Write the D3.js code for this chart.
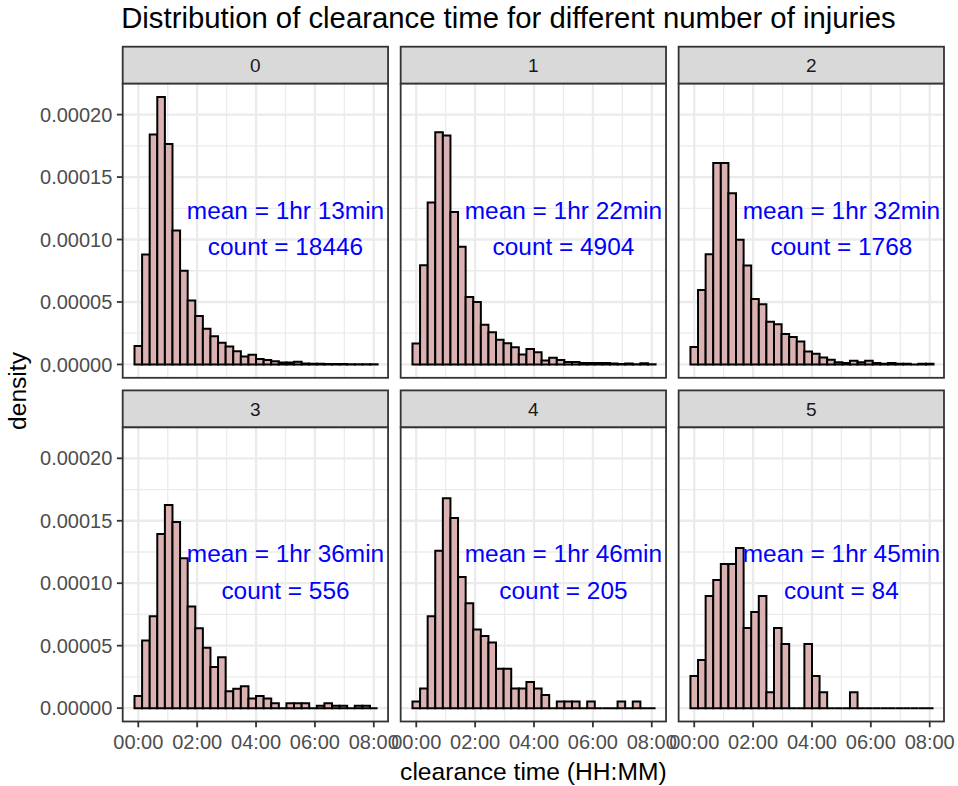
<!DOCTYPE html>
<html>
<head>
<meta charset="utf-8">
<script src="https://cdn.jsdelivr.net/npm/d3@7"></script>
<style>
  html, body { margin: 0; padding: 0; background: #ffffff; }
  svg { display: block; font-family: "Liberation Sans", Arial, sans-serif; }
</style>
</head>
<body>
<svg id="chart" width="958" height="786"></svg>
<script>
// Facet levels: number of injuries per incident
const injuryLevels = ["0", "1", "2", "3", "4", "5"];
// Incidents per facet
const totalCounts = [18446, 4904, 1768, 556, 205, 84];
// Mean clearance time per facet
const meanLabels = ["1hr 13min", "1hr 22min", "1hr 32min", "1hr 36min", "1hr 46min", "1hr 45min"];

// Incidents per histogram bin (32 bins from 00:00 to 08:00)
const binCounts0 = [252, 1508, 3154, 3668, 3025, 1838, 1284, 877, 666, 489, 385, 299, 247, 181, 110, 134,
                    75, 62, 43, 26, 26, 38, 14, 10, 9, 5, 7, 5, 3, 2, 2, 2];
const binCounts1 = [76, 362, 591, 847, 835, 556, 429, 246, 228, 145, 117, 90, 77, 63, 36, 56,
                    44, 14, 24, 16, 9, 9, 5, 5, 5, 5, 3, 2, 3, 1, 4, 1];
const binCounts2 = [23, 98, 145, 265, 265, 225, 164, 130, 86, 79, 56, 53, 40, 36, 30, 17,
                    14, 9, 6, 3, 2, 5, 3, 5, 2, 1, 2, 1, 1, 0, 1, 1];
const binCounts3 = [5, 28, 38, 72, 84, 77, 62, 42, 33, 25, 17, 21, 7, 8, 9, 4,
                    5, 4, 2, 0, 2, 2, 2, 0, 1, 2, 1, 1, 0, 1, 1, 0];
const binCounts4 = [1, 3, 14, 24, 32, 29, 20, 16, 12, 11, 10, 6, 6, 3, 3, 4,
                    3, 2, 0, 1, 1, 1, 0, 1, 0, 0, 0, 1, 0, 1, 0, 0];
const binCounts5 = [2, 3, 7, 8, 9, 9, 10, 5, 6, 7, 1, 5, 4, 0, 0, 4,
                    2, 1, 0, 0, 0, 1, 0, 0, 0, 0, 0, 0, 0, 0, 0, 0];

// Axis ticks
const xTickHours = [0, 2, 4, 6, 8];
const xTickLabels = ["00:00", "02:00", "04:00", "06:00", "08:00"];
const xMinorHours = [1, 3, 5, 7];
const yTickValues = [0, 0.00005, 0.0001, 0.00015, 0.0002];
const yTickLabels = ["0.00000", "0.00005", "0.00010", "0.00015", "0.00020"];
const yMinorValues = [0.000025, 0.000075, 0.000125, 0.000175];

// Text
const titleText = "Distribution of clearance time for different number of injuries";
const xTitle = "clearance time (HH:MM)";
const yTitle = "density";

const allBinCounts = [binCounts0, binCounts1, binCounts2, binCounts3, binCounts4, binCounts5];
const nBins = binCounts0.length;
const binHours = 8 / (nBins - 1);
const binSeconds = binHours * 3600;
const annotationHour = 5;
const annotationDensity = 0.00011;

// Histogram density (per second) for each facet
const panels = injuryLevels.map((lvl, i) => {
  const n = totalCounts[i];
  const bins = allBinCounts[i].map((c, k) => ({
    x0: k * binHours - binHours / 2,
    x1: k * binHours + binHours / 2,
    density: c / (n * binSeconds)
  }));
  return { level: lvl, n, mean: meanLabels[i], bins };
});

// Layout
const area = { left: 122.7, right: 944, top: 46.7, bottom: 721.5 };
const gap = 12.6, stripH = 37, nCol = 3, nRow = 2;
const panelW = (area.right - area.left - gap * (nCol - 1)) / nCol;
const panelH = (area.bottom - area.top - gap * (nRow - 1)) / nRow - stripH;
const tickLen = 5.8;
const tickFont = 20;

const yMax = d3.max(panels, p => d3.max(p.bins, b => b.density));
const x = d3.scaleLinear().domain([-0.53, 8.485]).range([0, panelW]);
const y = d3.scaleLinear().domain([-0.05 * yMax, 1.05 * yMax]).range([panelH, 0]);

const svg = d3.select("#chart");
svg.append("rect").attr("width", 958).attr("height", 786).attr("fill", "#ffffff");

// Title
svg.append("text")
  .attr("x", area.left - 1.5).attr("y", 28)
  .attr("font-size", 29.3).attr("fill", "#000")
  .text(titleText);

const defs = svg.append("defs");
defs.append("clipPath").attr("id", "panel-clip")
  .append("rect").attr("width", panelW).attr("height", panelH);

panels.forEach((p, i) => {
  const col = i % nCol, row = Math.floor(i / nCol);
  const px = area.left + col * (panelW + gap);
  const py = area.top + row * (panelH + stripH + gap);

  // Strip
  const strip = svg.append("g").attr("transform", `translate(${px},${py})`);
  strip.append("rect")
    .attr("width", panelW).attr("height", stripH)
    .attr("fill", "#D9D9D9").attr("stroke", "#333333").attr("stroke-width", 1.8);
  strip.append("text")
    .attr("x", panelW / 2).attr("y", stripH / 2).attr("dy", "0.36em")
    .attr("text-anchor", "middle").attr("font-size", 19).attr("fill", "#1A1A1A")
    .text(p.level);

  const g = svg.append("g").attr("transform", `translate(${px},${py + stripH})`);
  const inner = g.append("g").attr("clip-path", "url(#panel-clip)");
  inner.append("rect").attr("width", panelW).attr("height", panelH).attr("fill", "#ffffff");

  // Grid
  inner.selectAll(".gx-minor").data(xMinorHours).join("line")
    .attr("x1", d => x(d)).attr("x2", d => x(d)).attr("y1", 0).attr("y2", panelH)
    .attr("stroke", "#EBEBEB").attr("stroke-width", 1.3);
  inner.selectAll(".gy-minor").data(yMinorValues).join("line")
    .attr("x1", 0).attr("x2", panelW).attr("y1", d => y(d)).attr("y2", d => y(d))
    .attr("stroke", "#EBEBEB").attr("stroke-width", 1.3);
  inner.selectAll(".gx-major").data(xTickHours).join("line")
    .attr("x1", d => x(d)).attr("x2", d => x(d)).attr("y1", 0).attr("y2", panelH)
    .attr("stroke", "#EBEBEB").attr("stroke-width", 2.3);
  inner.selectAll(".gy-major").data(yTickValues).join("line")
    .attr("x1", 0).attr("x2", panelW).attr("y1", d => y(d)).attr("y2", d => y(d))
    .attr("stroke", "#EBEBEB").attr("stroke-width", 2.3);

  // Histogram bars (zero-height bins still draw their outline)
  inner.selectAll(".bar").data(p.bins).join("path")
    .attr("d", b => {
      const x0 = x(b.x0), x1 = x(b.x1), y0 = y(0), y1 = y(b.density);
      return `M${x0},${y0}V${y1}H${x1}V${y0}Z`;
    })
    .attr("fill", "#DBB2B2").attr("stroke", "#000000").attr("stroke-width", 2)
    .attr("stroke-linejoin", "miter");

  // Annotation
  const ax = x(annotationHour), ay = y(annotationDensity);
  g.append("text")
    .attr("x", ax).attr("y", ay - 8.5)
    .attr("text-anchor", "middle").attr("font-size", 24.4).attr("fill", "#0000FF")
    .text(`mean = ${p.mean}`);
  g.append("text")
    .attr("x", ax).attr("y", ay + 28)
    .attr("text-anchor", "middle").attr("font-size", 24.4).attr("fill", "#0000FF")
    .text(`count = ${p.n}`);

  // Panel border
  g.append("rect").attr("width", panelW).attr("height", panelH)
    .attr("fill", "none").attr("stroke", "#333333").attr("stroke-width", 1.8);

  // Y axis on the left column
  if (col === 0) {
    g.selectAll(".ytick").data(yTickValues).join("line")
      .attr("x1", -tickLen).attr("x2", 0).attr("y1", d => y(d)).attr("y2", d => y(d))
      .attr("stroke", "#333333").attr("stroke-width", 1.8);
    g.selectAll(".ylab").data(yTickValues).join("text")
      .attr("x", -tickLen - 4.6).attr("y", d => y(d)).attr("dy", "0.36em")
      .attr("text-anchor", "end").attr("font-size", tickFont).attr("fill", "#4D4D4D")
      .text((d, j) => yTickLabels[j]);
  }
  // X axis on the bottom row
  if (row === nRow - 1) {
    g.selectAll(".xtick").data(xTickHours).join("line")
      .attr("x1", d => x(d)).attr("x2", d => x(d)).attr("y1", panelH).attr("y2", panelH + tickLen)
      .attr("stroke", "#333333").attr("stroke-width", 1.8);
    g.selectAll(".xlab").data(xTickHours).join("text")
      .attr("x", d => x(d)).attr("y", panelH + 28)
      .attr("text-anchor", "middle").attr("font-size", tickFont).attr("fill", "#4D4D4D")
      .text((d, j) => xTickLabels[j]);
  }
});

// Axis titles
svg.append("text")
  .attr("x", (area.left + area.right) / 2).attr("y", 780)
  .attr("text-anchor", "middle").attr("font-size", 24.6).attr("fill", "#000")
  .text(xTitle);
svg.append("text")
  .attr("transform", `translate(26,391) rotate(-90)`)
  .attr("text-anchor", "middle").attr("font-size", 24.6).attr("fill", "#000")
  .text(yTitle);
</script>
</body>
</html>
